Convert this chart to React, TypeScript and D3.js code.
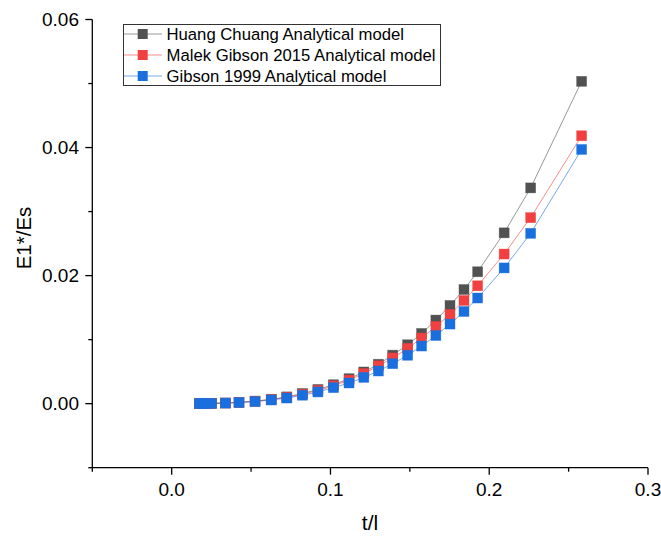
import React from "react";
import * as d3 from "d3";

const tl = [0.0174, 0.0192, 0.0212, 0.0251, 0.0338, 0.0424, 0.0525, 0.0627, 0.0725, 0.0824, 0.0921, 0.1019, 0.1117, 0.121, 0.1302, 0.1392, 0.1486, 0.1574, 0.1664, 0.1753, 0.1841, 0.1927, 0.2094, 0.2261, 0.2582];
const huang = [0.00001, 0.00002, 0.00002, 0.00005, 0.00011, 0.00021, 0.0004, 0.00069, 0.00106, 0.00159, 0.00222, 0.00296, 0.0039, 0.00495, 0.00616, 0.00758, 0.0092, 0.01097, 0.01306, 0.01534, 0.01783, 0.0206, 0.02668, 0.0337, 0.05034];
const malek = [0.00001, 0.00002, 0.00002, 0.00005, 0.0001, 0.0002, 0.00038, 0.00064, 0.00099, 0.00148, 0.00206, 0.00278, 0.00368, 0.0047, 0.0059, 0.00714, 0.00863, 0.01025, 0.01206, 0.01393, 0.01612, 0.01841, 0.02337, 0.02905, 0.04184];
const gibson = [0.00001, 0.00002, 0.00002, 0.00004, 0.00009, 0.00018, 0.00033, 0.00057, 0.00088, 0.00132, 0.00183, 0.0025, 0.00323, 0.0041, 0.0051, 0.00624, 0.00756, 0.009, 0.01064, 0.01243, 0.0144, 0.0165, 0.0212, 0.0266, 0.0397];

const seriesNames = ["Huang Chuang Analytical model", "Malek Gibson 2015 Analytical model", "Gibson 1999 Analytical model"];
const seriesColors = ["#515151", "#F14040", "#1A6FDF"];
const seriesValues = [huang, malek, gibson];

const xMajor = [0.0, 0.1, 0.2, 0.3];
const xMinor = [-0.05, 0.05, 0.15, 0.25];
const yMajor = [0.0, 0.02, 0.04, 0.06];
const yMinor = [-0.01, 0.01, 0.03, 0.05];

const FONT = "'Liberation Sans', Arial, sans-serif";

export default function App() {
  const x = d3.scaleLinear().domain([-0.05, 0.3]).range([92.3, 648]);
  const y = d3.scaleLinear().domain([-0.01, 0.06]).range([467.7, 19.5]);
  const line = d3
    .line<[number, number]>()
    .x((d) => x(d[0]))
    .y((d) => y(d[1]));
  const ms = 10;
  const x0 = x.range()[0];
  const y0 = y.range()[0];

  return (
    <svg
      width={661}
      height={536}
      style={{ position: "absolute", left: 0, top: 0, background: "#fff" }}
      fontFamily={FONT}
    >
      <rect width={661} height={536} fill="#fff" />
      {/* series */}
      {seriesValues.map((vals, si) => {
        const pts: [number, number][] = tl.map((t, i) => [t, vals[i]]);
        return (
          <g key={si}>
            <path d={line(pts) || ""} fill="none" stroke={seriesColors[si]} strokeWidth={0.8} strokeOpacity={0.75} />
            {pts.map((p, i) => (
              <rect
                key={i}
                x={x(p[0]) - ms / 2}
                y={y(p[1]) - ms / 2}
                width={ms}
                height={ms}
                fill={seriesColors[si]}
                stroke={seriesColors[si]}
                strokeOpacity={0.6}
                strokeWidth={0.6}
              />
            ))}
          </g>
        );
      })}
      {/* axes */}
      <line x1={x0} x2={x0} y1={y(0.06)} y2={y0} stroke="#000" strokeWidth={1.3} />
      <line x1={x0} x2={x(0.3)} y1={y0} y2={y0} stroke="#000" strokeWidth={1.3} />
      {xMajor.map((v) => (
        <g key={"xM" + v}>
          <line x1={x(v)} x2={x(v)} y1={y0} y2={y0 + 7} stroke="#000" strokeWidth={1.3} />
          <text x={x(v)} y={496} fontSize={19} textAnchor="middle" fill="#000">
            {d3.format(".1f")(v)}
          </text>
        </g>
      ))}
      {xMinor.map((v) => (
        <line key={"xm" + v} x1={x(v)} x2={x(v)} y1={y0} y2={y0 + 4} stroke="#000" strokeWidth={1.3} />
      ))}
      {yMajor.map((v) => (
        <g key={"yM" + v}>
          <line x1={x0 - 7} x2={x0} y1={y(v)} y2={y(v)} stroke="#000" strokeWidth={1.3} />
          <text x={79} y={y(v) + 6.5} fontSize={19} textAnchor="end" fill="#000">
            {d3.format(".2f")(v)}
          </text>
        </g>
      ))}
      {yMinor.map((v) => (
        <line key={"ym" + v} x1={x0 - 4} x2={x0} y1={y(v)} y2={y(v)} stroke="#000" strokeWidth={1.3} />
      ))}
      {/* axis titles */}
      <text x={370} y={530} fontSize={21} textAnchor="middle" fill="#000">
        t/l
      </text>
      <text
        transform={`translate(31,238) rotate(-90)`}
        fontSize={20.5}
        textAnchor="middle"
        fill="#000"
      >
        E1*/Es
      </text>
      {/* legend */}
      <rect x={123.5} y={24.5} width={317} height={61} fill="#fff" stroke="#333" strokeWidth={1} />
      {seriesNames.map((name, i) => {
        const ly = 34 + i * 21;
        return (
          <g key={name}>
            <line x1={124} x2={162} y1={ly} y2={ly} stroke={seriesColors[i]} strokeWidth={0.8} strokeOpacity={0.75} />
            <rect x={142.7 - 5} y={ly - 5} width={10} height={10} fill={seriesColors[i]} />
            <text x={166.5} y={ly + 6} fontSize={16.7} fill="#000">
              {name}
            </text>
          </g>
        );
      })}
    </svg>
  );
}
